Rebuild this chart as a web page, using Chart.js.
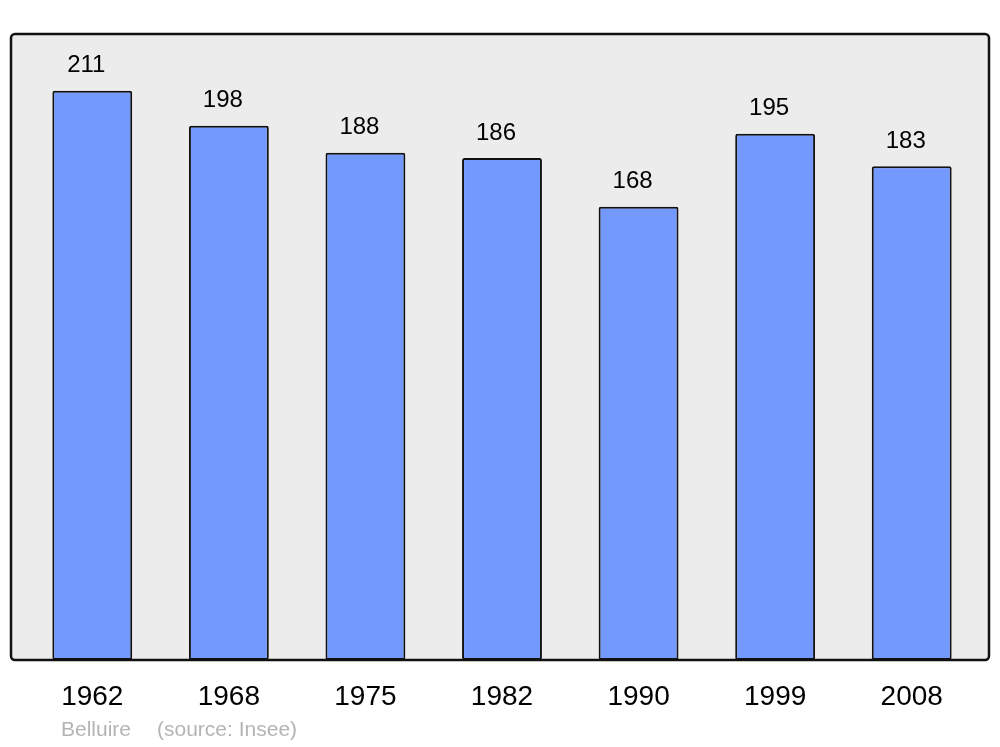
<!DOCTYPE html>
<html>
<head>
<meta charset="utf-8">
<script src="https://cdn.jsdelivr.net/npm/chart.js@4/dist/chart.umd.min.js"></script>
<style>
  body { margin: 0; background: #fff; }
  #wrap { width: 1000px; height: 747px; position: relative; }
</style>
</head>
<body>
<div id="wrap"><canvas id="myChart"></canvas></div>
<script>
var years = ['1962', '1968', '1975', '1982', '1990', '1999', '2008'];
var population = [211, 198, 188, 186, 168, 195, 183];
var yMax = 232;

// grey panel behind bars, border on top of them
var panelPlugin = {
  id: 'panel',
  beforeDatasetsDraw: function (chart) {
    var a = chart.chartArea, c = chart.ctx;
    c.save();
    c.beginPath();
    c.roundRect(a.left - 13, a.top, a.right - a.left + 22, a.bottom - a.top, 4);
    c.fillStyle = '#ececec';
    c.fill();
    c.restore();
  },
  afterDatasetsDraw: function (chart) {
    var a = chart.chartArea, c = chart.ctx;
    c.save();
    c.beginPath();
    c.roundRect(a.left - 13, a.top, a.right - a.left + 22, a.bottom - a.top, 4);
    c.lineWidth = 2.5;
    c.strokeStyle = '#111';
    c.stroke();
    // values over bars
    var meta = chart.getDatasetMeta(0);
    c.fillStyle = '#000';
    c.font = '24px "Liberation Sans", Arial, sans-serif';
    c.textAlign = 'center';
    c.textBaseline = 'middle';
    meta.data.forEach(function (bar, i) {
      c.fillText(population[i], bar.x - 6, bar.y - 25);
    });
    // footer
    c.fillStyle = '#b4b4b4';
    c.font = '21px "Liberation Sans", Arial, sans-serif';
    c.textAlign = 'left';
    c.fillText('Belluire', 61, 730);
    c.fillText('(source: Insee)', 157, 730);
    c.restore();
  }
};

var ctx = document.getElementById('myChart').getContext('2d');
var myChart = new Chart(ctx, {
  type: 'bar',
  data: {
    labels: years,
    datasets: [{
      data: population,
      backgroundColor: '#7399ff',
      borderColor: '#111',
      borderWidth: 2,
      borderRadius: 2,
      borderSkipped: false,
      barPercentage: 0.585,
      categoryPercentage: 1
    }]
  },
  options: {
    responsive: true,
    maintainAspectRatio: false,
    animation: false,
    layout: { padding: { left: 24, right: 20, top: 34, bottom: 0 } },
    plugins: { legend: { display: false }, tooltip: { enabled: false } },
    scales: {
      y: { display: false, min: 0, max: yMax },
      x: {
        grid: { display: false },
        border: { display: false },
        afterFit: function (scale) { scale.height = 87; },
        ticks: {
          color: '#000',
          padding: 12,
          font: { family: '"Liberation Sans", Arial, sans-serif', size: 28 }
        }
      }
    }
  },
  plugins: [panelPlugin]
});
</script>
</body>
</html>
